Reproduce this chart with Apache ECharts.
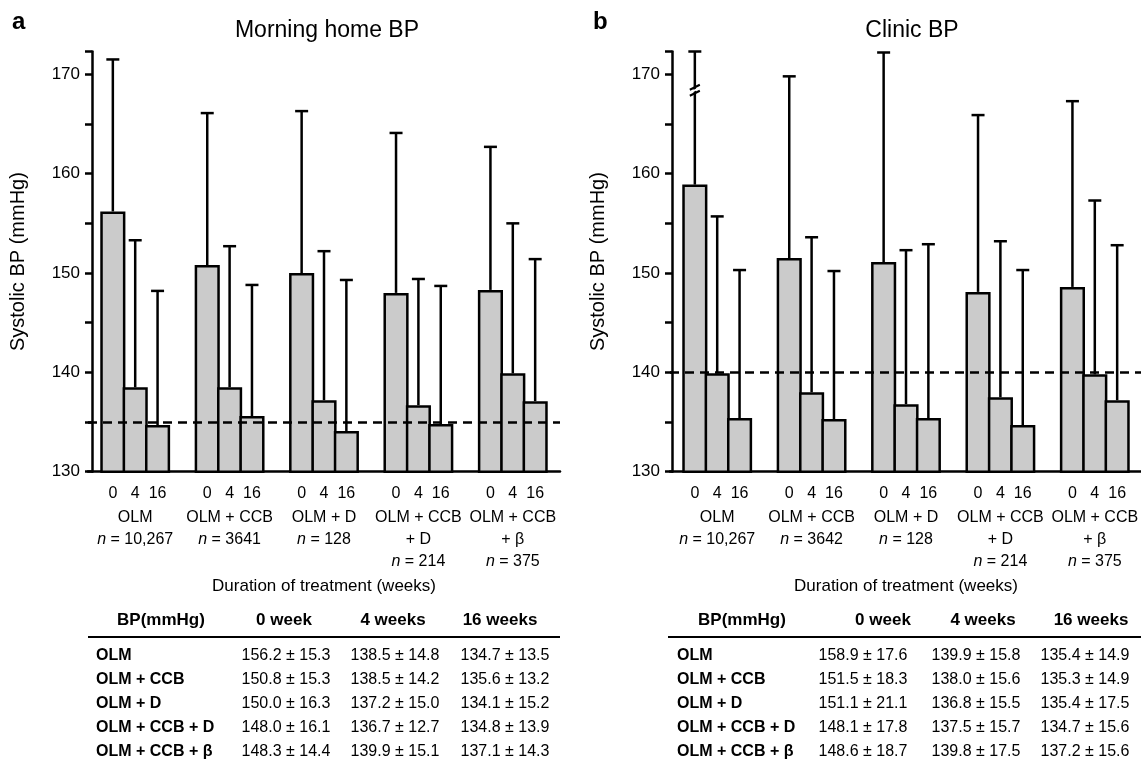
<!DOCTYPE html>
<html><head><meta charset="utf-8">
<script src="https://cdn.jsdelivr.net/npm/echarts@6/dist/echarts.min.js"></script>
<style>html,body{margin:0;padding:0;background:#fff}#c{width:1141px;height:767px}</style>
</head><body><div id="c"></div>
<script>
// ---------------- data ----------------
const groups = ['OLM', 'OLM + CCB', 'OLM + D', 'OLM + CCB\n+ D', 'OLM + CCB\n+ β'];
const tableLabels = ['OLM', 'OLM + CCB', 'OLM + D', 'OLM + CCB + D', 'OLM + CCB + β'];
const tableHeader = ['BP(mmHg)', '0 week', '4 weeks', '16 weeks'];
const weekLabels = ['0', '4', '16'];
const homeN = ['10,267', '3641', '128', '214', '375'];
const clinicN = ['10,267', '3642', '128', '214', '375'];

const homeWk0 = [156.2, 150.8, 150.0, 148.0, 148.3];
const homeWk0SD = [15.3, 15.3, 16.3, 16.1, 14.4];
const homeWk4 = [138.5, 138.5, 137.2, 136.7, 139.9];
const homeWk4SD = [14.8, 14.2, 15.0, 12.7, 15.1];
const homeWk16 = [134.7, 135.6, 134.1, 134.8, 137.1];
const homeWk16SD = [13.5, 13.2, 15.2, 13.9, 14.3];

const clinicWk0 = [158.9, 151.5, 151.1, 148.1, 148.6];
const clinicWk0SD = [17.6, 18.3, 21.1, 17.8, 18.7];
const clinicWk4 = [139.9, 138.0, 136.8, 137.5, 139.8];
const clinicWk4SD = [15.8, 15.6, 15.5, 15.7, 17.5];
const clinicWk16 = [135.4, 135.3, 135.4, 134.7, 137.2];
const clinicWk16SD = [14.9, 14.9, 17.5, 15.6, 15.6];

const homeTarget = 135;
const clinicTarget = 140;
const yTickLabels = [130, 140, 150, 160, 170];

// ---------------- styling ----------------
const FONT = 'Liberation Sans, Arial, Noto Sans CJK JP, sans-serif';
const Y_MIN = 130, Y_MAX = 172.3, Y_INT = 5;
const GAP = 0.26;       // barCategoryGap
const BGAP = -0.11;     // barGap (overlap so neighbouring borders coincide)
const BAR_FILL = '#cbcbcb';
const LW = 2.5;

const chart = echarts.init(document.getElementById('c'));

function errorData(means, sds) {
  const out = [];
  for (let g = 0; g < groups.length; g++) {
    for (let w = 0; w < 3; w++) {
      out.push([g, w, means[w][g], means[w][g] + sds[w][g]]);
    }
  }
  return out;
}

function renderError(params, api) {
  const g = api.value(0), w = api.value(1), mean = api.value(2), upper = api.value(3);
  const band = api.size([1, 0])[0];
  const bw = band * (1 - GAP) / (3 + 2 * BGAP);
  const step = bw * (1 + BGAP);
  const base = api.coord([g, mean]);
  const x = base[0] + (w - 1) * step;
  const over = upper > Y_MAX;
  const top = api.coord([g, Math.min(upper, Y_MAX)])[1];
  const yBase = api.coord([g, Y_MIN])[1];
  const children = [
    { type: 'line', shape: { x1: x, y1: base[1], x2: x, y2: top }, style: { stroke: '#000', lineWidth: LW } },
    { type: 'line', shape: { x1: x - 6.5, y1: top, x2: x + 6.5, y2: top }, style: { stroke: '#000', lineWidth: LW } },
    { type: 'text', style: { text: weekLabels[w], x: x, y: yBase + 22, align: 'center', verticalAlign: 'middle', font: '16px ' + FONT, fill: '#000' } }
  ];
  if (over) {
    const yb = api.coord([g, Y_MAX - 3.9])[1];
    children.push({ type: 'polygon', shape: { points: [[x - 4, yb + 3], [x + 4, yb - 1], [x + 4, yb - 3], [x - 4, yb + 1]] }, style: { fill: '#fff' } });
    children.push({ type: 'line', shape: { x1: x - 5, y1: yb + 5.5, x2: x + 5, y2: yb + 0.5 }, style: { stroke: '#000', lineWidth: 2 } });
    children.push({ type: 'line', shape: { x1: x - 5, y1: yb - 0.5, x2: x + 5, y2: yb - 5.5 }, style: { stroke: '#000', lineWidth: 2 } });
  }
  return { type: 'group', children };
}

function grid(left) {
  return { left: left, top: 51.5, width: 472, height: 420.2, outerBoundsMode: 'none', containLabel: false };
}

function xAxis(gridIndex, nArr) {
  return {
    type: 'category', gridIndex, data: groups,
    axisLine: { lineStyle: { color: '#000', width: LW } },
    axisTick: { show: false },
    axisLabel: {
      interval: 0, margin: 35, color: '#000', fontSize: 16, fontFamily: FONT, lineHeight: 22,
      formatter: (v, i) => v + '\n{i|n} = ' + nArr[i],
      rich: { i: { fontStyle: 'italic', fontSize: 16, fontFamily: FONT, lineHeight: 22, color: '#000' } }
    },
    name: 'Duration of treatment (weeks)', nameLocation: 'middle', nameGap: 106,
    nameTextStyle: { color: '#000', fontSize: 17, fontFamily: FONT }
  };
}

function yAxis(gridIndex, offset) {
  return {
    type: 'value', gridIndex, min: Y_MIN, max: Y_MAX, interval: Y_INT, offset: offset,
    axisLine: { show: true, lineStyle: { color: '#000', width: LW } },
    axisTick: { show: true, length: 7, lineStyle: { color: '#000', width: LW } },
    splitLine: { show: false },
    axisLabel: { color: '#000', fontSize: 17, fontFamily: FONT, margin: 12,
      formatter: v => (yTickLabels.indexOf(v) >= 0 ? String(v) : '') },
    name: 'Systolic BP (mmHg)', nameLocation: 'middle', nameGap: 64,
    nameTextStyle: { color: '#000', fontSize: 20, fontFamily: FONT }
  };
}

function barSeries(idx, vals) {
  return {
    type: 'bar', xAxisIndex: idx, yAxisIndex: idx, data: vals,
    barGap: (BGAP * 100) + '%', barCategoryGap: (GAP * 100) + '%',
    itemStyle: { color: BAR_FILL, borderColor: '#000', borderWidth: LW },
    emphasis: { disabled: true }, silent: true, animation: false
  };
}

function errSeries(idx, data, target) {
  return {
    type: 'custom', xAxisIndex: idx, yAxisIndex: idx, data, clip: false,
    encode: { x: 0, y: [2, 3] }, renderItem: renderError, z: 5, silent: true, animation: false,
    markLine: {
      silent: true, symbol: 'none', animation: false,
      label: { show: false },
      lineStyle: { color: '#000', width: LW, type: [9, 6] },
      data: [{ yAxis: target }]
    }
  };
}

// table graphics
function tableGraphic(labelX, bpX, headX, colX, lineX1, lineX2, means, sds) {
  const els = [];
  const headY = 620, lineY = 637, rowY0 = 656, rowH = 24;
  els.push({ type: 'text', x: bpX, y: headY, style: { text: tableHeader[0], align: 'center', verticalAlign: 'middle', font: 'bold 17px ' + FONT, fill: '#000' } });
  for (let c = 0; c < 3; c++) {
    els.push({ type: 'text', x: headX[c], y: headY, style: { text: tableHeader[c + 1], align: 'center', verticalAlign: 'middle', font: 'bold 17px ' + FONT, fill: '#000' } });
  }
  els.push({ type: 'line', shape: { x1: lineX1, y1: lineY, x2: lineX2, y2: lineY }, style: { stroke: '#000', lineWidth: 2 } });
  for (let r = 0; r < tableLabels.length; r++) {
    const y = rowY0 + r * rowH;
    els.push({ type: 'text', x: labelX, y, style: { text: tableLabels[r], align: 'left', verticalAlign: 'middle', font: 'bold 16px ' + FONT, fill: '#000' } });
    for (let c = 0; c < 3; c++) {
      els.push({ type: 'text', x: colX[c], y, style: { text: means[c][r].toFixed(1) + ' ± ' + sds[c][r].toFixed(1), align: 'center', verticalAlign: 'middle', font: '16px ' + FONT, fill: '#000' } });
    }
  }
  return els;
}

const homeMeans = [homeWk0, homeWk4, homeWk16];
const homeSDs = [homeWk0SD, homeWk4SD, homeWk16SD];
const clinicMeans = [clinicWk0, clinicWk4, clinicWk16];
const clinicSDs = [clinicWk0SD, clinicWk4SD, clinicWk16SD];

const option = {
  backgroundColor: '#fff',
  animation: false,
  textStyle: { fontFamily: FONT, color: '#000' },
  title: [
    { text: 'a', left: 7, top: 5, textStyle: { fontSize: 24, fontWeight: 'bold', fontFamily: FONT, color: '#000' } },
    { text: 'b', left: 588, top: 5, textStyle: { fontSize: 24, fontWeight: 'bold', fontFamily: FONT, color: '#000' } },
    { text: 'Morning home BP', left: 322, textAlign: 'center', top: 14, textStyle: { fontSize: 23, fontWeight: 'normal', fontFamily: FONT, color: '#000' } },
    { text: 'Clinic BP', left: 907, textAlign: 'center', top: 14, textStyle: { fontSize: 23, fontWeight: 'normal', fontFamily: FONT, color: '#000' } }
  ],
  grid: [grid(88), grid(670)],
  xAxis: [xAxis(0, homeN), xAxis(1, clinicN)],
  yAxis: [yAxis(0, -4), yAxis(1, -2)],
  series: [
    barSeries(0, homeWk0), barSeries(0, homeWk4), barSeries(0, homeWk16),
    errSeries(0, errorData(homeMeans, homeSDs), homeTarget),
    barSeries(1, clinicWk0), barSeries(1, clinicWk4), barSeries(1, clinicWk16),
    errSeries(1, errorData(clinicMeans, clinicSDs), clinicTarget)
  ],
  graphic: [].concat(
    tableGraphic(96, 161, [284, 393, 500], [286, 395, 505], 88, 560, homeMeans, homeSDs),
    tableGraphic(677, 742, [883, 983, 1091], [863, 976, 1085], 668, 1141, clinicMeans, clinicSDs)
  )
};
chart.setOption(option);
</script></body></html>
